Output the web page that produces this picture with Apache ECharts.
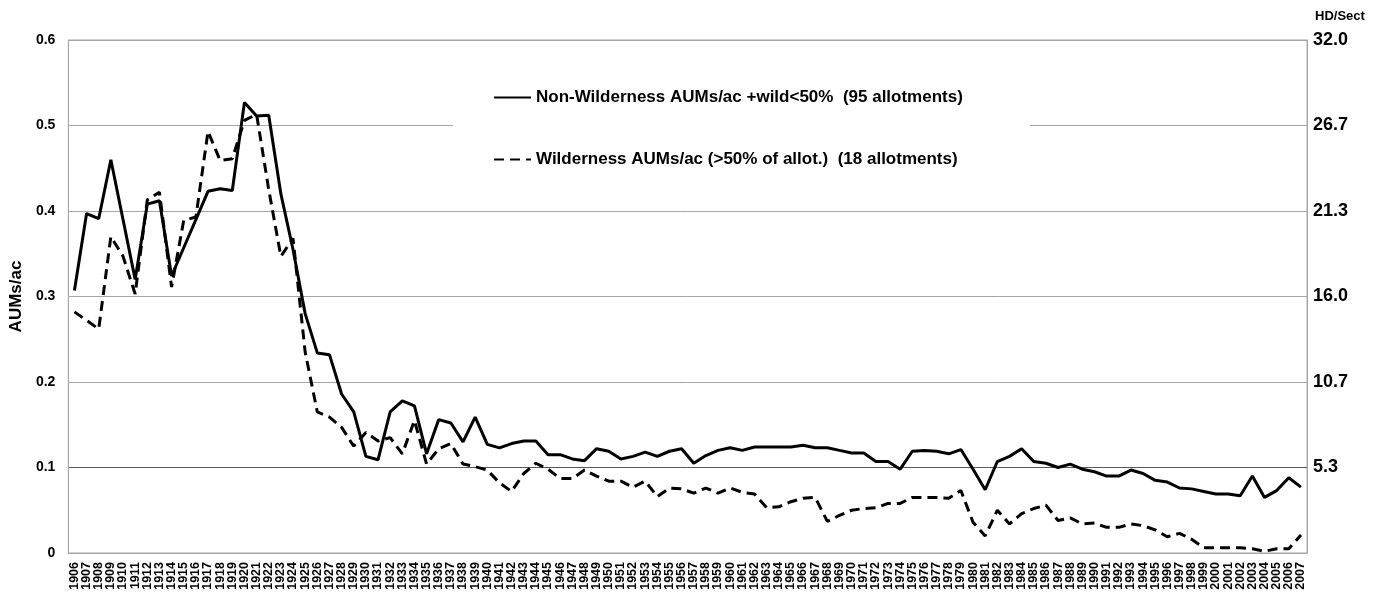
<!DOCTYPE html>
<html>
<head>
<meta charset="utf-8">
<script src="https://cdn.jsdelivr.net/npm/echarts@6/dist/echarts.min.js"></script>
<style>
html,body{margin:0;padding:0;background:#fff;}
#chart{width:1379px;height:595px;}
</style>
</head>
<body>
<div id="chart"></div>
<script>
// Years 1906..2007
var years = [];
for (var y = 1906; y <= 2007; y++) years.push(String(y));

// Non-Wilderness AUMs/ac +wild<50% (95 allotments)
var nonWilderness = [
  0.307, 0.397, 0.391, 0.460, 0.390, 0.320, 0.408, 0.412, 0.324, 0.357, // 1906-1915
  0.390, 0.423, 0.426, 0.424, 0.527, 0.511, 0.512, 0.420, 0.355, 0.280, // 1916-1925
  0.234, 0.232, 0.186, 0.165, 0.113, 0.109, 0.165, 0.178, 0.172, 0.116, // 1926-1935
  0.156, 0.152, 0.130, 0.159, 0.127, 0.123, 0.128, 0.131, 0.131, 0.115, // 1936-1945
  0.115, 0.110, 0.108, 0.122, 0.119, 0.110, 0.113, 0.118, 0.113, 0.119, // 1946-1955
  0.122, 0.105, 0.114, 0.120, 0.123, 0.120, 0.124, 0.124, 0.124, 0.124, // 1956-1965
  0.126, 0.123, 0.123, 0.120, 0.117, 0.117, 0.107, 0.107, 0.098, 0.119, // 1966-1975
  0.120, 0.119, 0.116, 0.121, 0.098, 0.074, 0.107, 0.113, 0.122, 0.107, // 1976-1985
  0.105, 0.100, 0.104, 0.098, 0.095, 0.090, 0.090, 0.097, 0.093, 0.085, // 1986-1995
  0.083, 0.076, 0.075, 0.072, 0.069, 0.069, 0.067, 0.090, 0.065, 0.073, // 1996-2005
  0.088, 0.077                                                          // 2006-2007
];

// Wilderness AUMs/ac (>50% of allot.) (18 allotments)
var wilderness = [
  0.282, 0.272, 0.262, 0.370, 0.347, 0.303, 0.413, 0.422, 0.311, 0.389, // 1906-1915
  0.393, 0.493, 0.459, 0.461, 0.506, 0.513, 0.425, 0.347, 0.368, 0.235, // 1916-1925
  0.165, 0.159, 0.147, 0.125, 0.141, 0.131, 0.135, 0.116, 0.155, 0.104, // 1926-1935
  0.122, 0.128, 0.104, 0.101, 0.097, 0.082, 0.072, 0.093, 0.105, 0.098, // 1936-1945
  0.087, 0.087, 0.097, 0.090, 0.084, 0.084, 0.077, 0.084, 0.066, 0.076, // 1946-1955
  0.075, 0.070, 0.076, 0.070, 0.076, 0.071, 0.069, 0.053, 0.054, 0.060, // 1956-1965
  0.064, 0.065, 0.037, 0.044, 0.050, 0.052, 0.053, 0.058, 0.058, 0.065, // 1966-1975
  0.065, 0.065, 0.064, 0.073, 0.036, 0.020, 0.050, 0.034, 0.046, 0.052, // 1976-1985
  0.056, 0.038, 0.041, 0.034, 0.035, 0.030, 0.030, 0.034, 0.032, 0.027, // 1986-1995
  0.019, 0.023, 0.016, 0.006, 0.006, 0.006, 0.006, 0.005, 0.002, 0.005, // 1996-2005
  0.005, 0.021                                                          // 2006-2007
];

var seriesNames = [
  'Non-Wilderness AUMs/ac +wild<50%  (95 allotments)',
  'Wilderness AUMs/ac (>50% of allot.)  (18 allotments)'
];
var leftAxisName = 'AUMs/ac';
var rightAxisName = 'HD/Sect';

var FONT = '"Liberation Sans", Arial, sans-serif';
var GRID = '#a6a6a6';

var chart = echarts.init(document.getElementById('chart'), null, {renderer: 'canvas'});
chart.setOption({
  animation: false,
  backgroundColor: '#fff',
  textStyle: {fontFamily: FONT},
  grid: {left: 68, right: 72, top: 40, bottom: 42, containLabel: false,
         show: true, borderColor: GRID, borderWidth: 1, backgroundColor: 'transparent'},
  legend: {
    show: true,
    orient: 'vertical',
    left: 453,
    top: 77,
    padding: [12, 67, 12, 40],
    backgroundColor: '#fff',
    itemWidth: 37,
    itemHeight: 14,
    itemGap: 45,
    itemStyle: {opacity: 0, borderWidth: 0},
    textStyle: {fontFamily: FONT, fontWeight: 'bold', fontSize: 17, color: '#000'},
    data: seriesNames
  },
  xAxis: {
    type: 'category',
    data: years,
    boundaryGap: true,
    axisLine: {show: true, lineStyle: {color: GRID, width: 1}},
    axisTick: {show: false},
    axisLabel: {interval: 0, rotate: 90, margin: 9, fontFamily: FONT, fontWeight: 'bold', fontSize: 12.5, color: '#000'},
    splitLine: {show: false}
  },
  yAxis: [{
    type: 'value',
    min: 0, max: 0.6, interval: 0.1,
    name: leftAxisName,
    nameLocation: 'middle',
    nameRotate: 90,
    nameGap: 35,
    nameTextStyle: {fontFamily: FONT, fontWeight: 'bold', fontSize: 17, color: '#000'},
    axisLine: {show: true, lineStyle: {color: GRID}},
    axisTick: {show: false},
    axisLabel: {margin: 13, fontFamily: FONT, fontWeight: 'bold', fontSize: 14, color: '#000',
      formatter: function (v) { return v === 0 ? '0' : v.toFixed(1); }},
    splitLine: {show: true, lineStyle: {color: [GRID, '#595959', GRID, GRID, GRID, GRID, GRID], width: 1}}
  }, {
    type: 'value',
    min: 0, max: 32, interval: 32 / 6,
    position: 'right',
    name: rightAxisName,
    nameLocation: 'end',
    nameGap: 17,
    nameTextStyle: {fontFamily: FONT, fontWeight: 'bold', fontSize: 13, color: '#000', align: 'left', padding: [0, 0, 0, 8]},
    axisLine: {show: true, lineStyle: {color: GRID}},
    axisTick: {show: false},
    axisLabel: {margin: 6, fontFamily: FONT, fontWeight: 'bold', fontSize: 18, color: '#000',
      formatter: function (v) { return v === 0 ? '' : v.toFixed(1); }},
    splitLine: {show: false}
  }],
  series: [{
    name: seriesNames[0],
    type: 'line',
    yAxisIndex: 0,
    data: nonWilderness,
    symbol: 'none',
    showSymbol: false,
    lineStyle: {color: '#000', width: 3, type: 'solid'},
    itemStyle: {color: '#000'},
    z: 3
  }, {
    name: seriesNames[1],
    type: 'line',
    yAxisIndex: 0,
    data: wilderness,
    symbol: 'none',
    showSymbol: false,
    lineStyle: {color: '#000', width: 3, type: [10, 6]},
    itemStyle: {color: '#000'},
    z: 2
  }]
});
</script>
</body>
</html>
